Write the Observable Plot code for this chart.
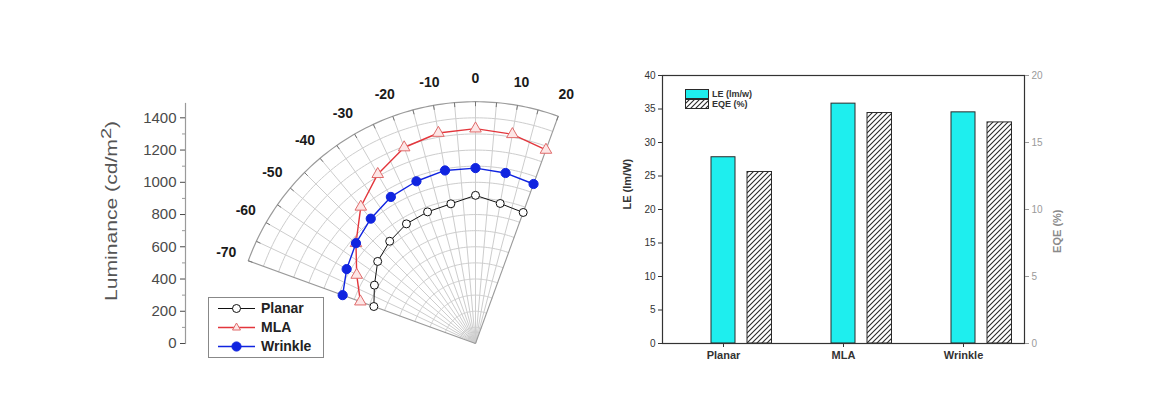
<!DOCTYPE html>
<html><head><meta charset="utf-8">
<script src="https://cdn.jsdelivr.net/npm/d3@7"></script>
<script src="https://cdn.jsdelivr.net/npm/@observablehq/plot@0.6"></script>
<style>
body{margin:0;background:#fff;font-family:Arial,"Liberation Sans",sans-serif;}
#wrap{position:relative;width:1151px;height:402px;overflow:hidden;background:#fff;}
#wrap > svg{position:absolute;top:0;}
.leg{position:absolute;background:#fff;}
.row{position:absolute;left:0;height:19px;width:100%;}
.row svg{position:absolute;left:9px;top:0;}
.row span{position:absolute;left:52px;top:1px;font-weight:bold;font-size:14px;color:#222;line-height:17px;}
</style></head><body><div id="wrap"></div>
<script>
// ---------- Polar panel data ----------
const angles = [-70, -60, -50, -40, -30, -20, -10, 0, 10, 20];
const planar = [671, 724, 792, 828, 857, 869, 880, 919, 882, 865];
const mla = [760, 851, 968, 1107, 1213, 1294, 1326, 1333, 1318, 1278];
const wrinkle = [877, 923, 968, 1011, 1050, 1071, 1090, 1088, 1074, 1053];
const radialTicks = [0, 200, 400, 600, 800, 1000, 1200, 1400];
const angleTicks = [-70, -60, -50, -40, -30, -20, -10, 0, 10, 20];
const seriesNames = ["Planar", "MLA", "Wrinkle"];

// ---------- Bar panel data ----------
const devices = ["Planar", "MLA", "Wrinkle"];
const leValues = [27.8, 35.8, 34.5];
const eqeValues = [12.8, 17.2, 16.5];
const leTicks = [0, 5, 10, 15, 20, 25, 30, 35, 40];
const eqeTicks = [0, 5, 10, 15, 20];

const wrap = document.getElementById("wrap");

// ---------- Polar plot ----------
const rMax = 1500, k = 0.1612, cx = 475, cy = 343;
const rad = a => a * Math.PI / 180;
const px = (r, a) => r * Math.sin(rad(a));
const py = (r, a) => r * Math.cos(rad(a));

const seriesVals = {Planar: planar, MLA: mla, Wrinkle: wrinkle};
const pts = seriesNames.flatMap(s => angles.map((a, i) => ({series: s, a, r: seriesVals[s][i]})));
const arcPts = d3.range(100, rMax, 100).flatMap(r => d3.range(-70, 20.001, 1).map(a => ({r, a})));
const outerPts = d3.range(-70, 20.001, 1).map(a => ({r: rMax, a}));
const spokes = d3.range(-65, 19.999, 5).map(a => ({a}));
const edges = [{a: -70}, {a: 20}];
const outerTicks = d3.range(-70, 20.001, 5).map(a => ({a}));

const styles = {
  Planar: {stroke: "#111", fill: "#fff", symbol: "circle", r: 4, sw: 1},
  MLA: {stroke: "#e3363c", fill: "#fde6e6", symbol: "triangle", r: 4.3, sw: 1.4},
  Wrinkle: {stroke: "#1024e0", fill: "#1024e0", symbol: "circle", r: 4.6, sw: 1.4}
};

const seriesMarks = seriesNames.flatMap(s => {
  const st = styles[s];
  const d = pts.filter(p => p.series === s);
  return [
    Plot.line(d, {x: p => px(p.r, p.a), y: p => py(p.r, p.a), stroke: st.stroke, strokeWidth: st.sw}),
    Plot.dot(d, {x: p => px(p.r, p.a), y: p => py(p.r, p.a), symbol: st.symbol, r: st.r,
      fill: st.fill, stroke: s === "MLA" ? "#e06a6a" : st.stroke, strokeWidth: 1})
  ];
});

const polar = Plot.plot({
  width: 600, height: 402,
  marginLeft: 185, marginRight: 0, marginTop: 103, marginBottom: 59,
  x: {domain: [-rMax, rMax], range: [cx - rMax * k, cx + rMax * k], axis: null},
  y: {domain: [0, rMax], range: [cy, cy - rMax * k]},
  style: {fontFamily: "Arial, 'Liberation Sans', sans-serif", background: "transparent", overflow: "visible"},
  marks: [
    Plot.line(arcPts, {x: d => px(d.r, d.a), y: d => py(d.r, d.a), z: "r", stroke: "#cdcdcd", strokeWidth: 1}),
    Plot.link(spokes, {x1: d => 0, y1: d => 0, x2: d => px(rMax, d.a), y2: d => py(rMax, d.a), stroke: "#cdcdcd", strokeWidth: 1}),
    Plot.link(edges, {x1: d => 0, y1: d => 0, x2: d => px(rMax, d.a), y2: d => py(rMax, d.a), stroke: "#9a9a9a", strokeWidth: 1.1}),
    Plot.line(outerPts, {x: d => px(d.r, d.a), y: d => py(d.r, d.a), stroke: "#9a9a9a", strokeWidth: 1.2}),
    Plot.link(outerTicks, {x1: d => px(rMax, d.a), y1: d => py(rMax, d.a), x2: d => px(rMax - 28, d.a), y2: d => py(rMax - 28, d.a), stroke: "#777", strokeWidth: 1}),
    ...seriesMarks,
    Plot.text(angleTicks, {x: a => px(rMax * 1.097, a), y: a => py(rMax * 1.097, a), text: a => String(a),
      fontWeight: "bold", fontSize: 14, fill: "#1a1a1a"}),
    Plot.frame({anchor: "left", stroke: "#9a9a9a", strokeWidth: 1.2}),
    Plot.axisY({ticks: radialTicks, tickFormat: d => String(d), tickSize: 5, tickPadding: 4, fontSize: 15, color: "#4a4a4a", label: null}),
    Plot.axisY({ticks: d3.range(100, 1500, 200), tickSize: 3, text: null, color: "#999", label: null})
  ]
});
polar.style.left = "0px";
wrap.appendChild(polar);

// ---------- Bar plot ----------
const bars = devices.map((d, i) => ({device: d, le: leValues[i], eqe: eqeValues[i]}));
const eqeToLe = 40 / 20;
const hatchDefs = () => {
  const defs = d3.create("svg:defs");
  const p = defs.append("pattern").attr("id", "hatch").attr("patternUnits", "userSpaceOnUse")
    .attr("width", 5).attr("height", 5);
  p.append("rect").attr("width", 5).attr("height", 5).attr("fill", "#fff");
  p.append("path").attr("d", "M-1,1 l2,-2 M0,5 l5,-5 M4,6 l2,-2").attr("stroke", "#2a2a2a").attr("stroke-width", 1.1);
  return defs.node();
};

const barPlot = Plot.plot({
  width: 551, height: 402,
  marginLeft: 62, marginRight: 127, marginTop: 75, marginBottom: 59,
  x: {type: "band", domain: devices, padding: 0},
  y: {domain: [0, 40]},
  style: {fontFamily: "Arial, 'Liberation Sans', sans-serif", background: "transparent", overflow: "visible"},
  marks: [
    hatchDefs,
    Plot.barY(bars, {x: "device", y: "le", fill: "#1eeeee", stroke: "#2a2a2a", strokeWidth: 1, insetLeft: 48, insetRight: 48}),
    Plot.barY(bars, {x: "device", y: d => d.eqe * eqeToLe, fill: "url(#hatch)", stroke: "#2a2a2a", strokeWidth: 1, insetLeft: 84, insetRight: 11.5}),
    Plot.frame({stroke: "#333", strokeWidth: 1.2}),
    Plot.axisY({anchor: "left", ticks: leTicks, tickSize: 4, tickPadding: 3, fontSize: 10, color: "#333", label: null}),
    Plot.axisY({anchor: "right", ticks: eqeTicks.map(v => v * eqeToLe), tickFormat: v => String(v / eqeToLe),
      tickSize: 4, tickPadding: 3, fontSize: 10, color: "#9a9a9a", label: null}),
    Plot.axisX({anchor: "bottom", tickSize: 4, tickPadding: 4, fontSize: 11, fontWeight: "bold", color: "#333", label: null}),
    Plot.text(["LE (lm/W)"], {frameAnchor: "left", dx: -35, rotate: -90, fontWeight: "bold", fontSize: 11, fill: "#333"}),
    Plot.text(["EQE (%)"], {frameAnchor: "right", dx: 33, rotate: -90, fontWeight: "bold", fontSize: 11, fill: "#8a8a8a"})
  ]
});
barPlot.style.left = "600px";
wrap.appendChild(barPlot);

// ---------- Luminance title ----------
const title = document.createElement("div");
title.style.cssText = "position:absolute;left:112px;top:211px;transform:translate(-50%,-50%) rotate(-90deg) scaleX(1.32);white-space:nowrap;font-size:16px;color:#555;";
title.innerHTML = "Luminance (cd/m<sup style='font-size:0.95em;line-height:0'>2</sup>)";
wrap.appendChild(title);

// ---------- Polar legend ----------
const leg = document.createElement("div");
leg.className = "leg";
leg.style.cssText += "left:208px;top:297px;width:114px;height:59px;border:1px solid #888;";
seriesNames.forEach((s, i) => {
  const st = styles[s];
  const row = document.createElement("div");
  row.className = "row";
  row.style.top = (1 + i * 19) + "px";
  let marker;
  if (st.symbol === "triangle") marker = `<path d="M18.5,5 L22.5,12 L14.5,12 Z" fill="${st.fill}" stroke="#e06a6a"/>`;
  else marker = `<circle cx="18.5" cy="9.5" r="${st.r}" fill="${st.fill}" stroke="${st.stroke}"/>`;
  row.innerHTML = `<svg width="38" height="19"><line x1="0" x2="37" y1="9.5" y2="9.5" stroke="${st.stroke}" stroke-width="${st.sw}"/>${marker}</svg><span>${s}</span>`;
  leg.appendChild(row);
});
wrap.appendChild(leg);

// ---------- Bar legend ----------
const bleg = document.createElement("div");
bleg.className = "leg";
bleg.style.cssText += "left:685px;top:89px;width:70px;height:20px;background:transparent;";
bleg.innerHTML = `
<svg width="24" height="20" style="position:absolute;left:0;top:0">
<defs><pattern id="hatch2" patternUnits="userSpaceOnUse" width="5" height="5"><rect width="5" height="5" fill="#fff"/><path d="M-1,1 l2,-2 M0,5 l5,-5 M4,6 l2,-2" stroke="#2a2a2a" stroke-width="1.1"/></pattern></defs>
<rect x="0.5" y="0.5" width="23" height="9" fill="#1eeeee" stroke="#2a2a2a"/>
<rect x="0.5" y="10.5" width="23" height="9" fill="url(#hatch2)" stroke="#2a2a2a"/>
</svg>
<span style="position:absolute;left:27px;top:0px;font-size:9px;font-weight:bold;color:#333;white-space:nowrap;line-height:10px">LE (lm/w)</span>
<span style="position:absolute;left:27px;top:10px;font-size:9px;font-weight:bold;color:#333;white-space:nowrap;line-height:10px">EQE (%)</span>`;
wrap.appendChild(bleg);
</script></body></html>
